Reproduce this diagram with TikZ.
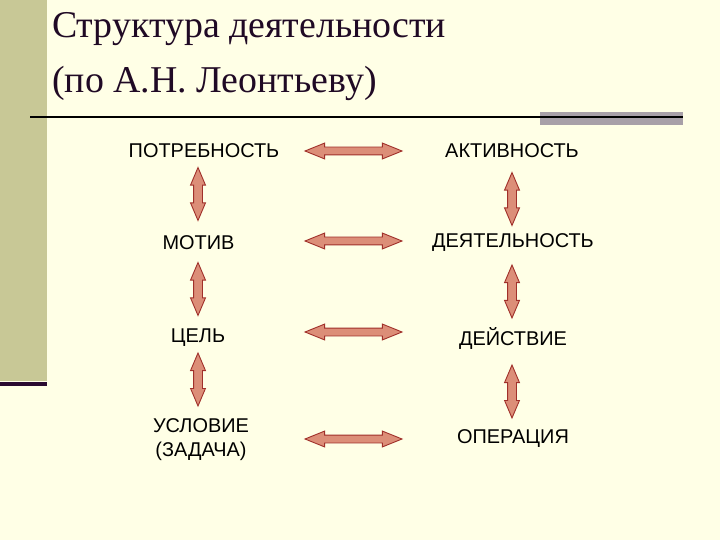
\documentclass[tikz,border=0pt]{standalone}
\usepackage{fontspec}
\setmainfont{Liberation Serif}
\newfontfamily\bodyfont{Liberation Sans}
\usetikzlibrary{shapes.arrows}
\definecolor{bgc}{HTML}{FFFFE6}
\definecolor{olive}{HTML}{C8C896}
\definecolor{darkpurp}{HTML}{2A0A30}
\definecolor{titlec}{HTML}{200A25}
\definecolor{graybar}{HTML}{A8A0A8}
\definecolor{arrfill}{HTML}{DC8E78}
\definecolor{arrdraw}{HTML}{A0302A}
\tikzset{
  lbl/.style={font=\bodyfont\fontsize{20}{24}\selectfont, text=black, align=center, inner sep=0pt},
  titletext/.style={anchor=base west, inner sep=0pt, text=titlec, font=\fontsize{38}{46}\selectfont},
  harrow/.style={shape=double arrow, draw=arrdraw, fill=arrfill, line width=0.9bp, inner sep=0pt,
    text width=0pt, text height=3.5bp, text depth=3.5bp,
    minimum height=97bp, minimum width=15bp, double arrow head extend=4bp, double arrow tip angle=44},
  varrow/.style={harrow, rotate=90, text height=4bp, text depth=4bp,
    minimum height=53bp, minimum width=14bp, double arrow head extend=3bp, double arrow tip angle=46}
}
\begin{document}
\begin{tikzpicture}[x=1bp,y=-1bp]
\useasboundingbox (0,0) rectangle (720,540);
\fill[bgc] (0,0) rectangle (720,540);
\fill[olive] (0,0) rectangle (47,381);
\fill[darkpurp] (0,382) rectangle (47,386);
\fill[graybar] (540,112) rectangle (683,125);
\draw[black, line width=2bp] (30,117.5) -- (683,117.5);
\node[titletext] (t1) at (52,38) {Структура деятельности};
\node[titletext] (t2) at (52,93) {(по А.Н. Леонтьеву)};
% labels
\node[lbl] (a1) at (204,151) {ПОТРЕБНОСТЬ};
\node[lbl] (b1) at (512,151) {АКТИВНОСТЬ};
\node[lbl] (a2) at (198.5,243) {МОТИВ};
\node[lbl] (b2) at (513,243) {ДЕЯТЕЛЬНОСТЬ};
\node[lbl] (a3) at (198,338) {ЦЕЛЬ};
\node[lbl] (b3) at (513,338) {ДЕЙСТВИЕ};
\node[lbl] (a4) at (201,440) {УСЛОВИЕ\\(ЗАДАЧА)};
\node[lbl] (b4) at (513,439) {ОПЕРАЦИЯ};
% horizontal arrows
\node[harrow] (h1) at (353.5,151) {};
\node[harrow] (h2) at (353.5,241) {};
\node[harrow] (h3) at (353.5,332) {};
\node[harrow] (h4) at (353.5,439) {};
% vertical arrows
\node[varrow] (va1) at (198,194) {};
\node[varrow] (va2) at (198,289) {};
\node[varrow] (va3) at (198,379.5) {};
\node[varrow] (vb1) at (512,199) {};
\node[varrow] (vb2) at (512,291.5) {};
\node[varrow] (vb3) at (512,391.5) {};
\end{tikzpicture}
\end{document}
